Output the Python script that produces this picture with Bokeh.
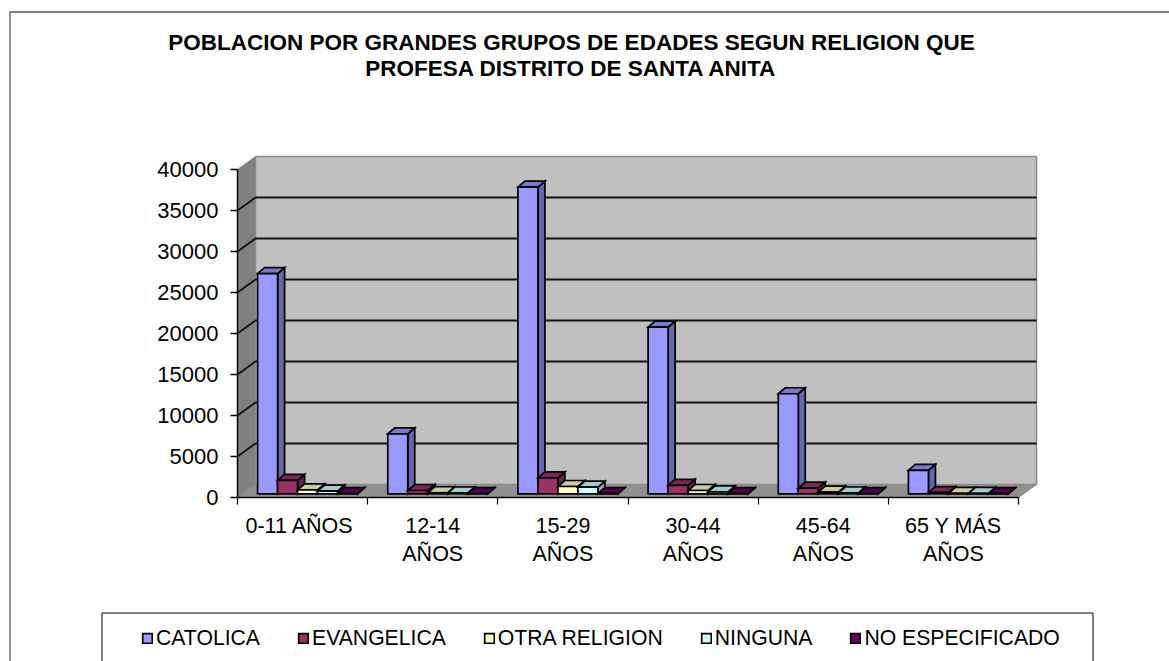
from bokeh.plotting import figure
from bokeh.embed import file_html
from bokeh.resources import INLINE
from bokeh.models import (FixedTicker, LinearAxis, Legend, LegendItem, BoxAnnotation, Label, Range1d)

categories = ["0-11  AÑOS", "12-14\nAÑOS", "15-29\nAÑOS", "30-44\nAÑOS", "45-64\nAÑOS", "65 Y MÁS\nAÑOS"]
catolica = [26850, 7320, 37400, 20320, 12200, 2850]
evangelica = [1630, 400, 1950, 1020, 680, 150]
otra_religion = [490, 130, 890, 400, 200, 50]
ninguna = [320, 100, 810, 240, 100, 40]
no_especificado = [20, 10, 30, 20, 15, 10]
series_names = ["CATOLICA", "EVANGELICA", "OTRA RELIGION", "NINGUNA", "NO ESPECIFICADO"]
series_values = [catolica, evangelica, otra_religion, ninguna, no_especificado]
face = ["#9999FF", "#993366", "#FFFFCC", "#CCFFFF", "#660066"]
side = ["#6666AA", "#662244", "#AAAA88", "#88AAAA", "#440044"]
top_c = ["#7A7ACC", "#7A2952", "#CCCCA3", "#A3CCCC", "#520052"]
y_ticks = [0, 5000, 10000, 15000, 20000, 25000, 30000, 35000, 40000]
title_text = "POBLACION POR GRANDES GRUPOS DE EDADES SEGUN RELIGION QUE\nPROFESA DISTRITO DE SANTA ANITA"

PX_X = 130.17       # pixels per category
PX_Y = 8.2 / 1000   # pixels per unit
W, H = 1169, 661
X0, Y0 = 237, 497   # where category 0 / value 0 fall on the page

def dx(px): return px / PX_X
def dy(px): return px / PX_Y

p = figure(width=W, height=H, output_backend="svg", toolbar_location=None,
           x_range=Range1d(dx(-X0), dx(W - X0)), y_range=Range1d(dy(Y0 - H), dy(Y0)),
           x_axis_type=None, y_axis_type=None,
           min_border_left=0, min_border_right=0, min_border_top=0, min_border_bottom=0,
           outline_line_color=None, background_fill_color="white", border_fill_color="white")
p.grid.visible = False

# 3D box
DX, DY = dx(18), dy(13)
n = len(categories)
p.patch([0, DX, DX, 0], [0, DY, 40000 + DY, 40000], fill_color="#808080", line_color="#8a8a8a", line_width=1)
p.patch([DX, n + DX, n + DX, DX], [DY, DY, 40000 + DY, 40000 + DY], fill_color="#C0C0C0", line_color="#8a8a8a", line_width=1.5)
p.patch([0, n, n + DX, DX], [0, 0, DY, DY], fill_color="#909090", line_color="#8a8a8a", line_width=1)
gl = y_ticks[1:-1]
p.multi_line([[0, DX, n + DX] for _ in gl], [[v, v + DY, v + DY] for v in gl], line_color="#111111", line_width=1.8)

# bars
BW = dx(20.0)
DEPTH_X, DEPTH_Y = dx(7), dy(6)
BX, BY = dx(5), dy(3.7)
items = []
for s, (name, vals) in enumerate(zip(series_names, series_values)):
    left = [i + 0.5 + BX + (s - 2.5) * BW for i in range(n)]
    right = [l + BW for l in left]
    base = [BY] * n
    tops = [BY + v for v in vals]
    lk = dict(line_color="black", line_width=1.7, line_join="miter")
    p.patches([[r, r + DEPTH_X, r + DEPTH_X, r] for r in right],
              [[b, b + DEPTH_Y, t + DEPTH_Y, t] for b, t in zip(base, tops)], fill_color=side[s], **lk)
    p.patches([[l, l + DEPTH_X, r + DEPTH_X, r] for l, r in zip(left, right)],
              [[t, t + DEPTH_Y, t + DEPTH_Y, t] for t in tops], fill_color=top_c[s], **lk)
    q = p.quad(left=left, right=right, bottom=base, top=tops, fill_color=face[s], **lk)
    items.append(LegendItem(label=name, renderers=[q]))

# axes
ya = LinearAxis(ticker=FixedTicker(ticks=y_ticks), bounds=(0, 40000), fixed_location=0,
                major_tick_in=0, major_tick_out=7, minor_tick_out=0, minor_tick_in=0,
                axis_line_color="black", axis_line_width=1.5, major_tick_line_color="black", major_tick_line_width=1.5,
                major_label_text_font="Liberation Sans", major_label_text_font_size="22px",
                major_label_text_color="black", major_label_standoff=12)
p.add_layout(ya, "left")
centers = [i + 0.5 for i in range(n)]
xa = LinearAxis(ticker=FixedTicker(ticks=centers, minor_ticks=list(range(n + 1))), bounds=(0, n), fixed_location=0,
                major_label_overrides={c: l for c, l in zip(centers, categories)},
                major_tick_in=0, major_tick_out=0, minor_tick_in=0, minor_tick_out=7,
                axis_line_color="black", axis_line_width=1.5, minor_tick_line_color="black", minor_tick_line_width=1.2,
                major_label_text_font="Liberation Sans", major_label_text_font_size="21.5px",
                major_label_text_color="black", major_label_standoff=9)
p.add_layout(xa, "below")

# title
p.add_layout(Label(x=571, y=55, x_units="canvas", y_units="canvas", text=title_text, text_align="center",
                   text_baseline="middle", text_font="Liberation Sans", text_font_size="22.5px",
                   text_line_height=1.05, text_font_style="bold", text_color="black"))

# frame boxes
p.add_layout(BoxAnnotation(left=9.5, right=1190, top=11.5, bottom=800, left_units="canvas", right_units="canvas",
                           top_units="canvas", bottom_units="canvas", fill_alpha=0, line_color="#555555", line_alpha=1,
                           line_width=1.3, level="overlay"))
p.add_layout(BoxAnnotation(left=101.5, right=1092.5, top=612.5, bottom=800, left_units="canvas", right_units="canvas",
                           top_units="canvas", bottom_units="canvas", fill_alpha=0, line_color="black", line_alpha=1,
                           line_width=1, level="overlay"))

leg = Legend(items=items, orientation="horizontal", location=(141, 11), border_line_color=None, background_fill_alpha=0,
             glyph_width=12, glyph_height=12, label_standoff=3, spacing=37, padding=0, margin=0,
             label_text_font="Liberation Sans", label_text_font_size="21.2px", label_text_color="black")
p.add_layout(leg, "center")

open("out.html", "w").write(file_html(p, INLINE))
